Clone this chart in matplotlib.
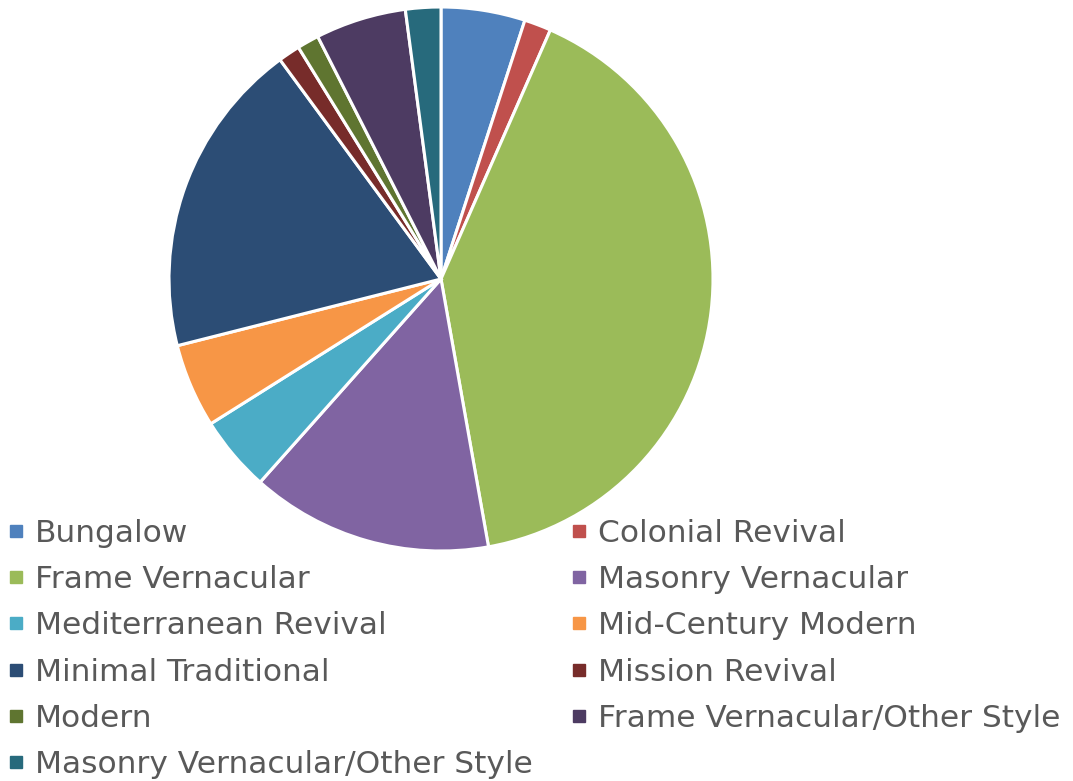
import matplotlib.pyplot as plt
from matplotlib.lines import Line2D

styles = ["Bungalow", "Colonial Revival", "Frame Vernacular", "Masonry Vernacular",
          "Mediterranean Revival", "Mid-Century Modern", "Minimal Traditional",
          "Mission Revival", "Modern", "Frame Vernacular/Other Style",
          "Masonry Vernacular/Other Style"]
shares = [5.0, 1.6, 40.7, 14.4, 4.5, 5.0, 18.9, 1.3, 1.3, 5.4, 2.1]
colors = ["#4F81BD", "#C0504D", "#9BBB59", "#8064A2", "#4BACC6", "#F79646",
          "#2C4D75", "#772C2A", "#5F7530", "#4D3B62", "#276A7C"]

W, H = 1073, 781
fig = plt.figure(figsize=(W / 100, H / 100), dpi=100)

# pie centre (441, 279) px, radius 272 px
cx, cy, r = 441, 279, 272
ax = fig.add_axes([(cx - r) / W, (H - cy - r) / H, 2 * r / W, 2 * r / H])
ax.pie(shares, colors=colors, startangle=90, counterclock=False,
       wedgeprops=dict(edgecolor="white", linewidth=2.2))
ax.set_xlim(-1, 1)
ax.set_ylim(-1, 1)
ax.set_aspect("equal")
ax.axis("off")

handles = [Line2D([], [], marker="s", linestyle="none", markersize=8.5,
                  markerfacecolor=c, markeredgecolor=c) for c in colors]

leg_kw = dict(frameon=False, fontsize=22.5, labelcolor="#595959",
              handlelength=0.5, handletextpad=0.35, labelspacing=0.55,
              borderpad=0, borderaxespad=0, loc="upper left")

left_idx = [0, 2, 4, 6, 8, 10]
right_idx = [1, 3, 5, 7, 9]
fig.legend([handles[i] for i in left_idx], [styles[i] for i in left_idx],
           bbox_to_anchor=(8 / W, 1 - 519 / H), **leg_kw)
fig.legend([handles[i] for i in right_idx], [styles[i] for i in right_idx],
           bbox_to_anchor=(571 / W, 1 - 519 / H), **leg_kw)

fig.savefig("out.png", dpi=100)
